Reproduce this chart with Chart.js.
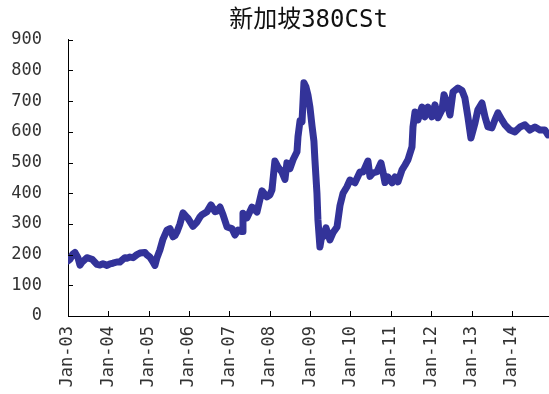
<!DOCTYPE html>
<html>
<head>
    <meta charset="UTF-8">
    <title>新加坡380CSt</title>
    <script src="https://cdn.jsdelivr.net/npm/chart.js@4.4.1/dist/chart.umd.min.js"></script>
    <style>
        body { margin: 0; background: #fff; }
        #wrap { width: 549px; height: 394px; }
    </style>
</head>
<body>
    <div id="wrap"><canvas id="chart"></canvas></div>

    <script>
        // Singapore 380cst fuel oil price
        var dates = [
            '2003-01-02', '2003-01-19', '2003-02-15', '2003-03-03', '2003-03-30', '2003-04-18', '2003-05-06',
            '2003-06-20', '2003-08-05', '2003-09-19', '2003-10-16', '2003-11-13', '2003-12-19',
            '2004-01-16', '2004-02-12', '2004-03-18', '2004-04-14', '2004-05-29', '2004-06-17', '2004-07-14',
            '2004-08-11', '2004-09-16', '2004-10-13', '2004-11-28', '2004-12-16',
            '2005-01-12', '2005-02-09', '2005-02-27', '2005-03-15', '2005-04-11', '2005-05-08', '2005-06-14',
            '2005-07-11', '2005-08-08', '2005-08-26', '2005-09-13', '2005-10-10', '2005-11-07', '2005-12-04', '2005-12-22',
            '2006-02-06', '2006-03-12', '2006-04-09', '2006-04-27', '2006-06-11', '2006-07-17', '2006-08-23',
            '2006-09-10', '2006-10-07', '2006-11-04', '2006-12-10',
            '2007-01-24', '2007-02-21', '2007-03-18', '2007-04-24', '2007-05-02', '2007-06-08', '2007-07-23',
            '2007-09-07', '2007-10-22', '2007-12-06',
            '2008-01-03', '2008-01-21', '2008-02-17', '2008-03-14', '2008-04-20', '2008-05-17', '2008-06-04',
            '2008-07-01', '2008-07-29', '2008-09-04', '2008-09-13', '2008-10-01', '2008-10-19', '2008-11-06',
            '2008-11-24', '2008-12-12', '2008-12-30',
            '2009-01-18', '2009-02-05', '2009-02-14', '2009-03-02', '2009-03-11', '2009-03-29', '2009-04-17',
            '2009-04-26', '2009-05-23', '2009-06-28', '2009-07-25', '2009-09-01', '2009-09-28', '2009-10-25',
            '2009-11-30', '2009-12-27',
            '2010-02-11', '2010-03-26', '2010-04-23', '2010-06-07', '2010-06-25', '2010-07-22', '2010-08-28',
            '2010-10-03', '2010-10-21', '2010-11-09', '2010-12-06',
            '2011-01-12', '2011-02-08', '2011-03-05', '2011-04-11', '2011-05-08', '2011-06-04', '2011-07-10',
            '2011-07-19', '2011-08-07', '2011-09-03', '2011-10-09', '2011-11-05', '2011-12-02',
            '2012-01-08', '2012-02-05', '2012-03-02', '2012-04-08', '2012-04-26', '2012-05-22', '2012-06-19',
            '2012-07-16', '2012-08-30', '2012-10-06', '2012-11-02', '2012-11-29', '2012-12-26',
            '2013-02-02', '2013-02-28', '2013-04-04', '2013-05-01', '2013-05-28', '2013-07-03', '2013-07-30',
            '2013-08-27', '2013-10-02', '2013-10-30', '2013-12-14',
            '2014-01-28', '2014-03-14', '2014-04-28', '2014-06-12', '2014-07-27', '2014-09-11', '2014-10-26',
            '2014-11-23'
        ];
        var prices = [
            180, 185, 202, 207, 190, 166, 175,
            190, 185, 168, 166, 170, 165,
            170, 172, 176, 176, 190, 188, 192,
            190, 200, 205, 207, 199,
            192, 176, 165, 190, 215, 250, 280,
            285, 258, 262, 274, 300, 336, 325, 318,
            292, 306, 323, 330, 340, 362, 340,
            342, 355, 330, 290,
            285, 264, 280, 275, 335, 320, 355,
            339, 408, 388,
            395, 411, 505, 486, 469, 445, 499,
            480, 509, 535, 584, 636, 633, 760,
            747, 720, 680,
            620, 570, 509, 400, 313, 225, 265,
            258, 287, 248, 271, 290, 360, 400,
            421, 443,
            434, 469, 469, 505, 455, 466, 470,
            499, 470, 435, 453,
            434, 453, 437, 476, 492, 509, 551,
            616, 665, 639, 681, 649, 681,
            649, 688, 646, 672, 721, 694, 655,
            730, 743, 735, 710, 649, 580,
            629, 672, 694, 649, 616, 613, 639,
            662, 639, 623, 606,
            600, 616, 623, 606, 616, 606, 606,
            590
        ];
        var yearLabels = ['Jan-03', 'Jan-04', 'Jan-05', 'Jan-06', 'Jan-07', 'Jan-08',
                          'Jan-09', 'Jan-10', 'Jan-11', 'Jan-12', 'Jan-13', 'Jan-14'];
        var firstYear = 2003;

        // date string -> fractional year
        function toYear(s) {
            var p = s.split('-');
            return +p[0] + (p[1] - 1) / 12 + (p[2] - 1) / 365;
        }

        var points = [];
        for (var i = 0; i < dates.length; i++) {
            points.push({ x: toYear(dates[i]), y: prices[i] });
        }

        var monoFont = "'DejaVu Sans Mono', 'Liberation Mono', monospace";

        // short tick marks pointing into the plot
        var innerTicks = {
            id: 'innerTicks',
            afterDraw: function(chart) {
                var ctx = chart.ctx, a = chart.chartArea;
                var xs = chart.scales.x, ys = chart.scales.y;
                ctx.save();
                ctx.strokeStyle = '#000';
                ctx.lineWidth = 1;
                ctx.beginPath();
                ys.ticks.forEach(function(t) {
                    var py = Math.round(ys.getPixelForValue(t.value)) + 0.5;
                    ctx.moveTo(a.left, py);
                    ctx.lineTo(a.left + 5, py);
                });
                xs.ticks.forEach(function(t) {
                    var px = Math.round(xs.getPixelForValue(t.value)) + 0.5;
                    ctx.moveTo(px, a.bottom);
                    ctx.lineTo(px, a.bottom - 5);
                });
                ctx.stroke();
                ctx.restore();
            }
        };

        var ctx = document.getElementById('chart').getContext('2d');
        var myChart = new Chart(ctx, {
            type: 'line',
            data: {
                datasets: [{
                    label: '380CSt',
                    data: points,
                    borderColor: '#333399',
                    borderWidth: 7,
                    borderJoinStyle: 'round',
                    borderCapStyle: 'round',
                    pointRadius: 0,
                    tension: 0,
                    fill: false
                }]
            },
            options: {
                responsive: true,
                maintainAspectRatio: false,
                animation: false,
                layout: { padding: 0 },
                plugins: {
                    legend: { display: false },
                    tooltip: { enabled: false },
                    title: {
                        display: true,
                        text: '新加坡380CSt',
                        fullSize: false,
                        color: '#111',
                        font: { family: monoFont + ", 'Noto Sans CJK SC'", size: 24, weight: 'normal' },
                        padding: { top: 6, bottom: 5 }
                    }
                },
                scales: {
                    x: {
                        type: 'linear',
                        min: firstYear,
                        max: 2014.92,
                        afterFit: function(scale) { scale.height = 78; },
                        grid: { drawOnChartArea: false, drawTicks: false },
                        border: { color: '#000', width: 1 },
                        ticks: {
                            stepSize: 1,
                            includeBounds: false,
                            autoSkip: false,
                            minRotation: 90,
                            maxRotation: 90,
                            padding: 10,
                            color: '#333',
                            font: { family: monoFont, size: 17 },
                            callback: function(v) {
                                var k = v - firstYear;
                                return Number.isInteger(k) ? yearLabels[k] : '';
                            }
                        }
                    },
                    y: {
                        min: 0,
                        max: 900,
                        afterFit: function(scale) { scale.width = 68; },
                        grid: { drawOnChartArea: false, drawTicks: false },
                        border: { color: '#000', width: 1 },
                        ticks: {
                            stepSize: 100,
                            padding: 26,
                            color: '#333',
                            font: { family: monoFont, size: 17 }
                        }
                    }
                }
            },
            plugins: [innerTicks]
        });
    </script>
</body>
</html>
